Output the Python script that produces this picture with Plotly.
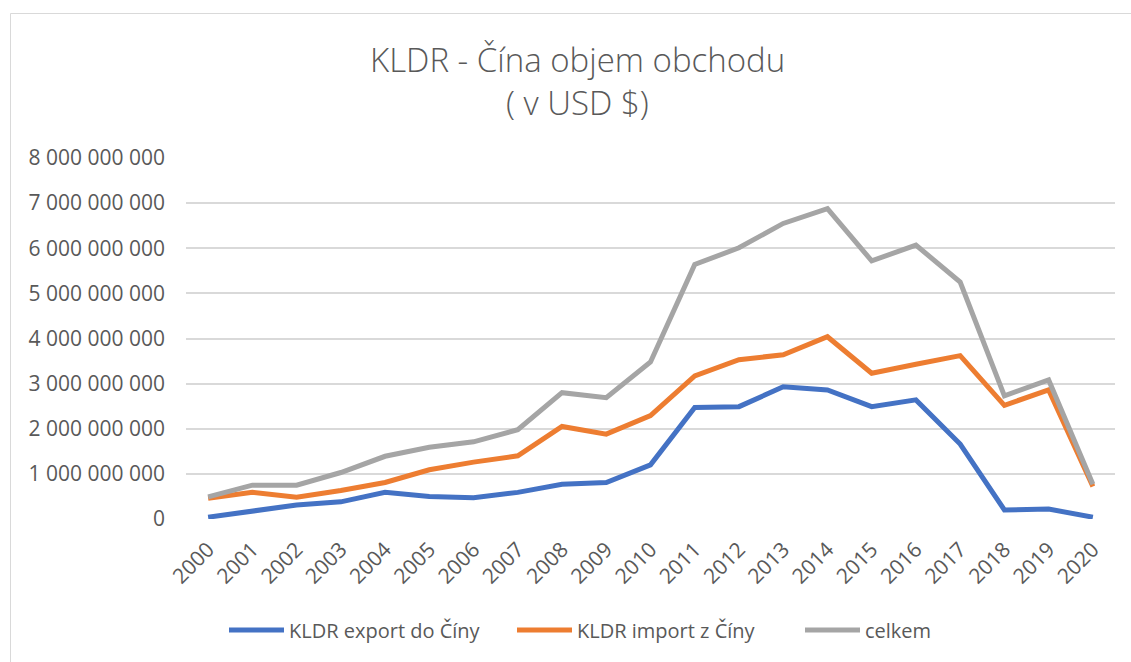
import plotly.graph_objects as go

years = [str(y) for y in range(2000, 2021)]
export_do_ciny = [0.04e9, 0.18e9, 0.31e9, 0.38e9, 0.59e9, 0.50e9, 0.47e9, 0.59e9, 0.77e9, 0.81e9,
                  1.20e9, 2.47e9, 2.49e9, 2.93e9, 2.86e9, 2.49e9, 2.64e9, 1.66e9, 0.20e9, 0.22e9, 0.04e9]
import_z_ciny = [0.46e9, 0.59e9, 0.48e9, 0.63e9, 0.81e9, 1.09e9, 1.26e9, 1.40e9, 2.05e9, 1.88e9,
                 2.29e9, 3.17e9, 3.53e9, 3.64e9, 4.04e9, 3.23e9, 3.43e9, 3.62e9, 2.52e9, 2.86e9, 0.72e9]
celkem = [0.49e9, 0.75e9, 0.75e9, 1.03e9, 1.39e9, 1.59e9, 1.71e9, 1.98e9, 2.80e9, 2.69e9,
          3.48e9, 5.64e9, 6.01e9, 6.55e9, 6.88e9, 5.72e9, 6.07e9, 5.25e9, 2.73e9, 3.08e9, 0.77e9]
series_names = ["KLDR export do Číny", "KLDR import z Číny", "celkem"]
series_colors = ["#4472C4", "#ED7D31", "#A5A5A5"]
y_tickvals = [i * 1e9 for i in range(0, 9)]
y_ticktext = ["0"] + [f"{i} 000 000 000" for i in range(1, 9)]

FONT = "Open Sans"
TXT = "#595959"

fig = go.Figure()
for name, vals, col in zip(series_names, [export_do_ciny, import_z_ciny, celkem], series_colors):
    fig.add_trace(go.Scatter(x=years, y=vals, name=name, mode="lines",
                             line=dict(color=col, width=5)))

W, H = 1131, 662
L, R, T, B = 186, 1115, 158, 519
pw, ph = R - L, B - T

def px(x):
    return (x - L) / pw

def py(y):
    return (B - y) / ph

fig.update_layout(
    width=W, height=H,
    margin=dict(l=L, r=W - R, t=T, b=H - B),
    paper_bgcolor="white", plot_bgcolor="white",
    font=dict(family=FONT, color=TXT, size=20),
    showlegend=True,
    legend=dict(orientation="h", x=px(224), xanchor="left", y=py(630), yanchor="middle",
                font=dict(size=20, color=TXT, family=FONT), itemwidth=55,
                entrywidth=218, entrywidthmode="pixels", traceorder="normal"),
    xaxis=dict(type="category", range=[-0.5, 20.5], tickangle=-45, showgrid=False,
               showline=False, ticks="", ticklabelstandoff=13,
               tickfont=dict(size=21, color=TXT, family=FONT)),
    yaxis=dict(range=[0, 8e9], tickvals=y_tickvals, ticktext=y_ticktext, showgrid=True,
               gridcolor="#D9D9D9", gridwidth=1.5, zeroline=False, showline=False,
               tickfont=dict(size=21, color=TXT, family=FONT), ticklabelstandoff=20),
    annotations=[
        dict(text="KLDR - Čína objem obchodu", xref="paper", yref="paper", x=px(577), y=py(60),
             showarrow=False, font=dict(size=33, color=TXT, family=FONT, weight=300),
             xanchor="center", yanchor="middle"),
        dict(text="( v USD $)", xref="paper", yref="paper", x=px(577), y=py(103),
             showarrow=False, font=dict(size=33, color=TXT, family=FONT, weight=300),
             xanchor="center", yanchor="middle"),
    ],
    shapes=[
        dict(type="rect", xref="paper", yref="paper", x0=px(10.5), x1=px(1140), y0=py(670), y1=py(13.5),
             line=dict(color="#D9D9D9", width=1), layer="below"),
    ],
)

fig.write_html("out.html", config={"displayModeBar": False},
               post_script="document.body.style.margin='0';document.body.style.overflow='hidden';")
